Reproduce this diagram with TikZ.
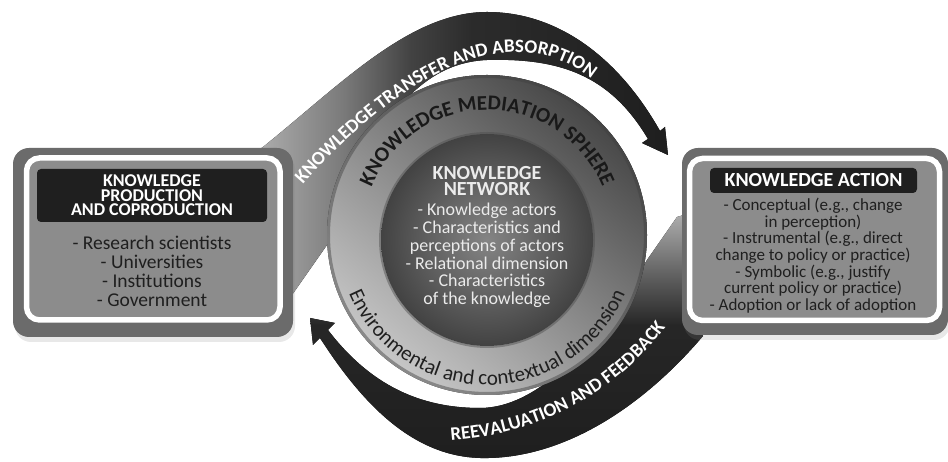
\documentclass[tikz,border=0pt]{standalone}
\usepackage{fontspec}
\setmainfont{Carlito}
\usetikzlibrary{decorations.text,shadows}

\pgfdeclarehorizontalshading{transfershade}{100bp}{color(0bp)=(black!28); color(25bp)=(black!28); color(37bp)=(black!52); color(45bp)=(black!74); color(52bp)=(black!83); color(75bp)=(black!88); color(100bp)=(black!88)}
\pgfdeclareverticalshading{feedbackshade}{100bp}{color(0bp)=(black!88); color(25bp)=(black!88); color(52bp)=(black!85); color(62bp)=(black!62); color(75bp)=(black!30); color(100bp)=(black!30)}

\newcommand{\bandfont}{\fontsize{19}{20}\selectfont\bfseries\color{white}}
\newcommand{\spherefont}{\fontsize{21}{21}\selectfont\bfseries\color{black!90}}
\newcommand{\ringfont}{\fontsize{21}{21}\selectfont\color{black!88}}

\tikzset{
  boxframe/.style={rounded corners=16pt, fill=black!58, inner sep=0pt,
    drop shadow={shadow xshift=2pt, shadow yshift=-5pt, opacity=0.18}},
  whiteframe/.style={rounded corners=13pt, draw=white, line width=5.5pt, fill=black!45, inner sep=0pt},
  titlebox/.style={rounded corners=4pt, fill=black!88, inner sep=0pt},
  titletext/.style={align=center, text=white, font=\fontsize{18}{14.5}\selectfont\bfseries},
  prodtext/.style={align=center, text=black!88, font=\fontsize{19.5}{19}\selectfont},
  acttext/.style={align=center, text=black!88, font=\fontsize{17}{16.7}\selectfont},
  nettitle/.style={align=center, text=black!8, font=\fontsize{20}{16}\selectfont\bfseries},
  nettext/.style={align=center, text=black!8, font=\fontsize{18}{17.9}\selectfont}
}

\begin{document}
\begin{tikzpicture}[x=1pt, y=1pt]
  \path[use as bounding box, fill=white] (0,0) rectangle (948,462);

  % arrows behind the sphere
  \fill[shading=transfershade] (240,300) -- (263,315)
    .. controls (340,377) and (410,450) .. (487,450)
    .. controls (560,450) and (620,402) .. (660,331)
    -- (665,335) -- (668,307) -- (642,319) -- (648,323)
    .. controls (610,387) and (560,404) .. (487,402)
    .. controls (440,400) and (410,372) .. (380,332)
    -- (327,217) -- (285,157) -- (240,157) -- cycle;
  \fill[shading=feedbackshade] (700,140) -- (703,126)
    .. controls (640,52) and (560,2) .. (480,4)
    .. controls (410,6) and (360,62) .. (320,124)
    -- (313,117) -- (310,144) -- (335,139) -- (328,132)
    .. controls (370,77) and (420,54) .. (480,54)
    .. controls (540,54) and (600,122) .. (647,202)
    -- (677,245) -- (700,252) -- cycle;

  % sphere
  \coordinate (sphere) at (487,227);
  \coordinate (core) at (487,222);
  \fill[top color=black!72, bottom color=black!22, shading angle=-40] (sphere) circle[radius=160pt];
  \draw[black!75, opacity=0.45, line width=3pt] (sphere) circle[radius=158.5pt];
  \draw[black!70, opacity=0.45, line width=2pt] (core) circle[radius=107pt];
  \shade[inner color=black!48, outer color=black!74] (core) circle[radius=106pt];

  \path[decorate, decoration={text along path, text align=center,
    text={|\spherefont|KNOWLEDGE MEDIATION SPHERE}}]
    ([shift={(161:125pt)}]sphere) arc[start angle=161, end angle=19, radius=125pt];
  \path[decorate, decoration={text along path, text align=center,
    text={|\ringfont|Environmental and contextual dimension}}]
    ([shift={(200:150pt)}]sphere) arc[start angle=200, end angle=340, radius=150pt];

  \node[nettitle] (nettitle) at (487,281) {KNOWLEDGE\\NETWORK};
  \node[nettext] (netlist) at (487,206.6) {- Knowledge actors\\- Characteristics and\\perceptions of actors\\- Relational dimension\\- Characteristics\\of the knowledge};

  % arrow labels
  \path[decorate, decoration={text along path, text align=center,
    text={|\bandfont|KNOWLEDGE TRANSFER AND ABSORPTION}}]
    (290,262) .. controls (368,357) and (507,472) .. (606,370);
  \path[decorate, decoration={text along path, text align=center,
    text={|\bandfont|REEVALUATION AND FEEDBACK}}]
    (430,20) .. controls (530,22) and (618,64) .. (678,152);

  % knowledge production
  \node[boxframe, minimum width=280pt, minimum height=189pt] (prodframe) at (153,219.5) {};
  \node[whiteframe, minimum width=253.5pt, minimum height=162pt] (prodpanel) at (153.25,223) {};
  \node[titlebox, minimum width=230pt, minimum height=53pt] (prodtitlebox) at (152,266.5) {};
  \node[titletext] (prodtitle) at (prodtitlebox) {KNOWLEDGE\\PRODUCTION\\AND COPRODUCTION};
  \node[prodtext] (prodlist) at (152,190.5) {- Research scientists\\- Universities\\- Institutions\\- Government};

  % knowledge action
  \node[boxframe, minimum width=266pt, minimum height=187pt] (actframe) at (815,220.5) {};
  \node[whiteframe, minimum width=250pt, minimum height=162pt] (actpanel) at (814.5,222.5) {};
  \node[titlebox, minimum width=207pt, minimum height=25pt] (acttitlebox) at (813.5,281.5) {};
  \node[titletext, font=\fontsize{20}{20}\selectfont\bfseries] (acttitle) at (acttitlebox) {KNOWLEDGE ACTION};
  \node[acttext] (actlist) at (813,206.3) {- Conceptual (e.g., change\\in perception)\\- Instrumental (e.g., direct\\change to policy or practice)\\- Symbolic (e.g., justify\\current policy or practice)\\- Adoption or lack of adoption};
\end{tikzpicture}
\end{document}
